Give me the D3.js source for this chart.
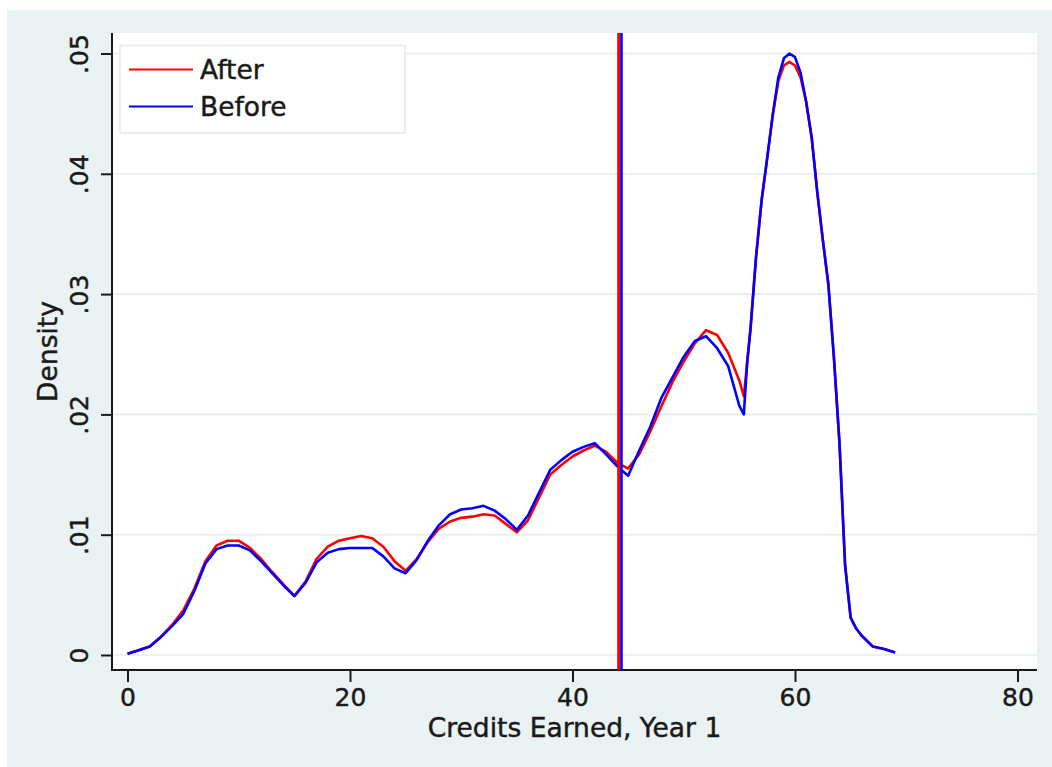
<!DOCTYPE html>
<html>
<head>
<meta charset="utf-8">
<script src="https://cdn.jsdelivr.net/npm/d3@7"></script>
<style>
  html, body { margin: 0; padding: 0; background: #ffffff; }
  svg { display: block; }
  text { font-family: "DejaVu Sans", Verdana, sans-serif; fill: #1a1a1a; stroke: #1a1a1a; stroke-width: 0.45px; }
</style>
</head>
<body>
<svg id="chart" width="1052" height="767"></svg>
<script>
// ---- data ----
const credits = [0,1,2,3,4,5,6,7,8,9,10,11,12,13,14,15,16,17,18,19,20,21,22,23,24,25,26,27,28,29,30,31,32,33,34,35,36,37,38,39,40,41,42,43,44,45,46,47,48,49,50,51,52,53,54,55,55.4,55.7,56,56.5,57,57.5,58,58.5,59,59.5,60,60.5,61,61.5,62,62.5,63,63.5,64,64.5,65,65.5,66,67,68,69];
const beforeDensity = [0.0001,0.0004,0.0007,0.0015,0.0024,0.0034,0.0053,0.0076,0.0088,0.0091,0.0091,0.0087,0.0078,0.0068,0.0058,0.0049,0.0060,0.0077,0.0085,0.0088,0.0089,0.0089,0.0089,0.0082,0.0072,0.0068,0.0079,0.0095,0.0108,0.0117,0.0121,0.0122,0.0124,0.0120,0.0113,0.0104,0.0116,0.0135,0.0154,0.0162,0.0169,0.0173,0.0176,0.0167,0.0157,0.0149,0.0170,0.0190,0.0214,0.0231,0.0248,0.0261,0.0265,0.0255,0.0240,0.0207,0.0200,0.0243,0.0271,0.0331,0.0378,0.0413,0.0449,0.0480,0.0496,0.0500,0.0497,0.0484,0.0460,0.0430,0.0385,0.0345,0.0308,0.0247,0.0176,0.0075,0.0031,0.0022,0.0016,0.0007,0.0005,0.0002];
const afterDensity = [0.0001,0.0004,0.0007,0.0015,0.0025,0.0037,0.0055,0.0078,0.0091,0.0095,0.0095,0.0089,0.0080,0.0069,0.0059,0.0049,0.0061,0.0080,0.0090,0.0095,0.0097,0.0099,0.0097,0.0090,0.0078,0.0070,0.0080,0.0094,0.0105,0.0111,0.0114,0.0115,0.0117,0.0116,0.0109,0.0102,0.0112,0.0131,0.0150,0.0158,0.0165,0.0170,0.0174,0.0169,0.0160,0.0155,0.0167,0.0186,0.0207,0.0227,0.0244,0.0259,0.0270,0.0266,0.0251,0.0228,0.0215,0.0243,0.0271,0.0331,0.0378,0.0413,0.0449,0.0477,0.0490,0.0493,0.0490,0.0480,0.0460,0.0430,0.0385,0.0345,0.0308,0.0247,0.0176,0.0075,0.0031,0.0022,0.0016,0.0007,0.0005,0.0002];
const cutoffAfter = 44.15;
const cutoffBefore = 44.4;
const xTicks = [0, 20, 40, 60, 80];
const yTicks = [0, 0.01, 0.02, 0.03, 0.04, 0.05];
const yTickLabels = ["0", ".01", ".02", ".03", ".04", ".05"];
const seriesNames = ["After", "Before"];
const seriesColors = ["#ff0000", "#0000ff"];
const xTitle = "Credits Earned, Year 1";
const yTitle = "Density";

// ---- layout ----
const svg = d3.select("#chart");
const plot = { left: 112, right: 1037, top: 33, bottom: 670 };
const x = d3.scaleLinear().domain([0, 80]).range([127.5, 1017.5]);
const y = d3.scaleLinear().domain([0, 0.05]).range([655, 53.5]);

// graph region background
svg.append("rect").attr("x", 7).attr("y", 10).attr("width", 1045).attr("height", 757).attr("fill", "#eaf2f3");
// plot region
svg.append("rect").attr("x", plot.left).attr("y", plot.top)
  .attr("width", plot.right - plot.left).attr("height", plot.bottom - plot.top).attr("fill", "#ffffff");

// gridlines
svg.append("g").selectAll("line").data(yTicks).join("line")
  .attr("x1", plot.left).attr("x2", plot.right)
  .attr("y1", d => y(d)).attr("y2", d => y(d))
  .attr("stroke", "#e4eced").attr("stroke-width", 1.6);

// axes
const yAxis = d3.axisLeft(y).tickValues(yTicks).tickSize(11).tickFormat((d, i) => yTickLabels[i]);
const gy = svg.append("g").attr("transform", `translate(${plot.left},0)`).call(yAxis);
gy.select(".domain").remove();
gy.selectAll(".tick line").attr("stroke", "#1a1a1a").attr("stroke-width", 2);
gy.selectAll(".tick text")
  .attr("x", null).attr("dy", null)
  .attr("text-anchor", "middle")
  .attr("transform", "translate(-24,0) rotate(-90)")
  .style("font-size", "25px").style("font-family", "DejaVu Sans").attr("fill", "#1a1a1a");
svg.append("line").attr("x1", plot.left).attr("x2", plot.left).attr("y1", plot.top).attr("y2", plot.bottom + 1)
  .attr("stroke", "#1a1a1a").attr("stroke-width", 2);

const xAxis = d3.axisBottom(x).tickValues(xTicks).tickSize(12).tickFormat(d3.format("d"));
const gx = svg.append("g").attr("transform", `translate(0,${plot.bottom})`).call(xAxis);
gx.select(".domain").remove();
gx.selectAll(".tick line").attr("stroke", "#1a1a1a").attr("stroke-width", 2);
gx.selectAll(".tick text").attr("y", 36).attr("dy", null)
  .style("font-size", "25px").style("font-family", "DejaVu Sans").attr("fill", "#1a1a1a");
svg.append("line").attr("x1", plot.left - 1).attr("x2", plot.right).attr("y1", plot.bottom).attr("y2", plot.bottom)
  .attr("stroke", "#1a1a1a").attr("stroke-width", 2);

// axis titles
svg.append("text").attr("x", (plot.left + plot.right) / 2).attr("y", 736.5)
  .attr("text-anchor", "middle").style("font-size", "26.5px").text(xTitle);
svg.append("text").attr("transform", `translate(57,${(plot.top + plot.bottom) / 2}) rotate(-90)`)
  .attr("text-anchor", "middle").style("font-size", "26.5px").text(yTitle);

// density lines
const line = d3.line().x(d => x(d[0])).y(d => y(d[1]));
const afterPts = credits.map((c, i) => [c, afterDensity[i]]);
const beforePts = credits.map((c, i) => [c, beforeDensity[i]]);
svg.append("path").datum(afterPts).attr("d", line).attr("fill", "none")
  .attr("stroke", seriesColors[0]).attr("stroke-width", 2.6).attr("stroke-linejoin", "round");
svg.append("path").datum(beforePts).attr("d", line).attr("fill", "none")
  .attr("stroke", seriesColors[1]).attr("stroke-width", 2.6).attr("stroke-linejoin", "round");

// cutoff lines
svg.append("line").attr("x1", x(cutoffAfter)).attr("x2", x(cutoffAfter))
  .attr("y1", plot.top).attr("y2", plot.bottom).attr("stroke", seriesColors[0]).attr("stroke-width", 3);
svg.append("line").attr("x1", x(cutoffBefore)).attr("x2", x(cutoffBefore))
  .attr("y1", plot.top).attr("y2", plot.bottom).attr("stroke", seriesColors[1]).attr("stroke-width", 2.6);

// legend
const lg = svg.append("g");
lg.append("rect").attr("x", 120).attr("y", 45.5).attr("width", 285).attr("height", 87.5)
  .attr("fill", "#ffffff").attr("stroke", "#e2eaec").attr("stroke-width", 1.5);
seriesNames.forEach((name, i) => {
  const ly = 69.5 + i * 37;
  lg.append("line").attr("x1", 129).attr("x2", 193).attr("y1", ly).attr("y2", ly)
    .attr("stroke", seriesColors[i]).attr("stroke-width", 2.2);
  lg.append("text").attr("x", 200).attr("y", ly + 9.5).style("font-size", "26.5px").text(name);
});
</script>
</body>
</html>
